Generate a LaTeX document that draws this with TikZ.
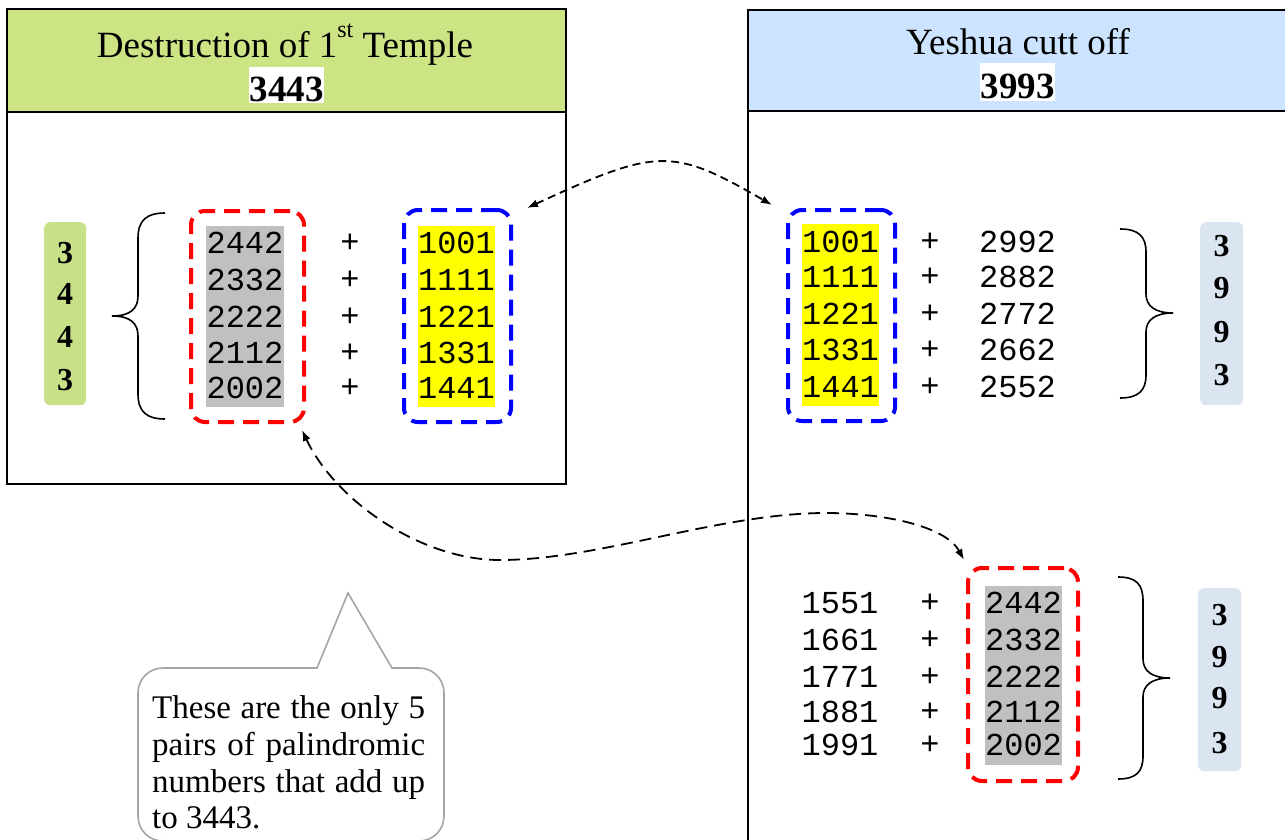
\documentclass[tikz,border=0pt]{standalone}
\usepackage{fontspec}
\setmainfont{Liberation Serif}
\newfontfamily\monofam{Liberation Mono}
\usetikzlibrary{arrows.meta}
\definecolor{ttlgreen}{RGB}{205,228,133}
\definecolor{boxgreen}{RGB}{200,224,135}
\definecolor{ttlblue}{RGB}{204,228,255}
\definecolor{boxblue}{RGB}{219,229,241}
\definecolor{hlgray}{RGB}{192,192,192}
\definecolor{hlyellow}{RGB}{255,255,0}
\definecolor{callgray}{RGB}{165,165,165}
\begin{document}
\begin{tikzpicture}[x=1pt,y=-1pt,
  frame/.style={draw=black, line width=1.8pt, inner sep=0pt, outer sep=0pt, anchor=north west},
  ttl/.style={font=\fontsize{37}{44}\selectfont, inner sep=0pt},
  ttlbold/.style={font=\bfseries\fontsize{37}{44}\selectfont, inner sep=0pt},
  mono/.style={font=\monofam\fontsize{32}{36}\selectfont, inner sep=0pt},
  bdig/.style={font=\bfseries\fontsize{32}{36}\selectfont, inner sep=0pt},
  sumbox/.style={draw=none, rounded corners=6pt, inner sep=0pt, anchor=north west},
  hlbox/.style={draw=none, inner sep=0pt, anchor=north west},
  dbox/.style={line width=4pt, dash pattern=on 16pt off 9pt, rounded corners=14pt, inner sep=0pt, outer sep=0pt, anchor=north west},
  brace/.style={draw=black, line width=1.6pt},
  conn/.style={draw=black, line width=1.8pt, {Latex[length=11pt,width=8pt]}-{Latex[length=11pt,width=8pt]}},
  callout/.style={draw=callgray, line width=1.6pt, fill=white},
  calltext/.style={font=\fontsize{33}{36.7}\selectfont, inner sep=0pt, anchor=north west, text width=273pt, align=justify}
]
\useasboundingbox (0,0) rectangle (1285,840);
\clip (0,0) rectangle (1285,840);
\fill[white] (0,0) rectangle (1285,840);

% ---------- frames ----------
\node[frame, fill=ttlgreen, minimum width=559pt, minimum height=103pt] (ltitle) at (7,9) {};
\node[frame, minimum width=559pt, minimum height=372pt] (lbody) at (7,112) {};
\node[frame, fill=ttlblue, minimum width=560pt, minimum height=101pt] (rtitle) at (748,10) {};
\node[frame, minimum width=560pt, minimum height=740pt] (rbody) at (748,111) {};

% ---------- titles ----------
\node[ttl, anchor=base] (lttl) at (285,58) {Destruction of 1\raisebox{20pt}{\fontsize{24}{24}\selectfont st} Temple};
\node[hlbox, fill=white, minimum width=75pt, minimum height=36pt] (lyearbg) at (249,67) {};
\node[ttlbold, anchor=base] (lyear) at (286.5,102) {3443};
\node[ttl, anchor=base] (rttl) at (1018,55) {Yeshua cutt off};
\node[hlbox, fill=white, minimum width=75pt, minimum height=38pt] (ryearbg) at (980,63) {};
\node[ttlbold, anchor=base] (ryear) at (1017.5,99) {3993};

% ---------- sum boxes ----------
\node[sumbox, fill=boxgreen, minimum width=42pt, minimum height=183pt] (lsum) at (44,222) {};
\foreach \d/\y [count=\i] in {3/253,4/294,4/337,3/380}
  \node[bdig] (lsd\i) at (65,\y) {\d};
\node[sumbox, fill=boxblue, minimum width=43pt, minimum height=183pt] (rsum) at (1200,222) {};
\foreach \d/\y [count=\i] in {3/246,9/288,9/332,3/375}
  \node[bdig] (rsd\i) at (1221.5,\y) {\d};
\node[sumbox, fill=boxblue, minimum width=43pt, minimum height=183pt] (bsum) at (1198,588) {};
\foreach \d/\y [count=\i] in {3/615,9/657,9/698,3/743}
  \node[bdig] (bsd\i) at (1219.5,\y) {\d};

% ---------- highlights ----------
\node[hlbox, fill=hlgray, minimum width=78pt, minimum height=181pt] (lgray) at (206,226) {};
\node[hlbox, fill=hlyellow, minimum width=77pt, minimum height=181pt] (lyel) at (418,226) {};
\node[hlbox, fill=hlyellow, minimum width=77pt, minimum height=182pt] (ryel) at (802,224) {};
\node[hlbox, fill=hlgray, minimum width=77pt, minimum height=179pt] (bgray) at (985,586) {};

% ---------- numbers ----------
\foreach \a/\b/\y [count=\i] in {2442/1001/243,2332/1111/280,2222/1221/317,2112/1331/353,2002/1441/388}{
  \node[mono] (la\i) at (245,\y) {\a};
  \node[mono] (lp\i) at (350,\y) {+};
  \node[mono] (lb\i) at (456.5,\y) {\b};
}
\foreach \a/\b/\y [count=\i] in {1001/2992/242,1111/2882/277,1221/2772/314,1331/2662/350,1441/2552/387}{
  \node[mono] (ra\i) at (840.5,\y) {\a};
  \node[mono] (rp\i) at (930,\y) {+};
  \node[mono] (rb\i) at (1017.5,\y) {\b};
}
\foreach \a/\b/\y [count=\i] in {1551/2442/603,1661/2332/640,1771/2222/677,1881/2112/712,1991/2002/745}{
  \node[mono] (ba\i) at (840,\y) {\a};
  \node[mono] (bp\i) at (930,\y) {+};
  \node[mono] (bb\i) at (1023.5,\y) {\b};
}

% ---------- braces ----------
\draw[brace] (165,213) .. controls (147,213) and (138,220) .. (138,238) -- (138,296)
  .. controls (138,309) and (130,316) .. (112,316) .. controls (130,316) and (138,323) .. (138,336)
  -- (138,394) .. controls (138,412) and (147,419) .. (165,419);
\draw[brace] (1120,229) .. controls (1138,229) and (1146,236) .. (1146,252) -- (1146,294)
  .. controls (1146,306) and (1155,313) .. (1173,313) .. controls (1155,313) and (1146,320) .. (1146,332)
  -- (1146,375) .. controls (1146,391) and (1138,398) .. (1120,398);
\draw[brace] (1118,577) .. controls (1136,577) and (1143,584) .. (1143,601) -- (1143,659)
  .. controls (1143,671) and (1152,678) .. (1170,678) .. controls (1152,678) and (1143,685) .. (1143,697)
  -- (1143,756) .. controls (1143,772) and (1136,779) .. (1118,779);

% ---------- dashed groups ----------
\node[dbox, draw=red, minimum width=113pt, minimum height=211pt] (lred) at (191,211) {};
\node[dbox, draw=blue, minimum width=107pt, minimum height=212pt] (lblue) at (404,210) {};
\node[dbox, draw=blue, minimum width=107pt, minimum height=211pt] (rblue) at (788,210) {};
\node[dbox, draw=red, minimum width=110pt, minimum height=213pt] (lowred) at (968,568) {};

% ---------- connectors ----------
\draw[conn, dash pattern=on 8pt off 5pt]
  ([xshift=16pt,yshift=2pt]lblue.north east) .. controls +(130,-60) and +(-100,-58) ..
  ([xshift=-16pt,yshift=5pt]rblue.north west);
\draw[conn, dash pattern=on 12pt off 7pt]
  ([xshift=-2pt,yshift=-8pt]lred.south east) .. controls (335,500) and (420,560) .. (500,560)
  .. controls (600,560) and (720,513) .. (826,513)
  .. controls (880,513) and (945,525) .. ([xshift=-4pt,yshift=8pt]lowred.north west);

% ---------- callout ----------
\draw[callout] (317,668) -- (348,593) -- (392,668) -- (419,668)
  .. controls (433,668) and (444,679) .. (444,693) -- (444,816)
  .. controls (444,830) and (433,841) .. (419,841) -- (163,841)
  .. controls (149,841) and (138,830) .. (138,816) -- (138,693)
  .. controls (138,679) and (149,668) .. (163,668) -- cycle;
\node[calltext] (note) at (152,695.5) {\hyphenpenalty=10000 These are the only 5\linebreak pairs of palindromic\linebreak numbers that add up\linebreak to 3443.};
\end{tikzpicture}
\end{document}
